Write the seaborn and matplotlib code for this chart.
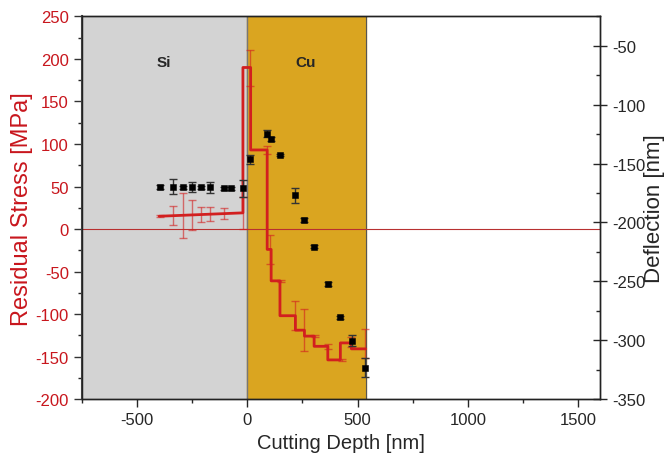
import numpy as np
import pandas as pd
import seaborn as sns
import matplotlib.pyplot as plt
from matplotlib.ticker import MultipleLocator

# stress profile (left axis)
si_line_depth = [-400, -20]
si_line_stress = [15, 19]
step_edges = [-20, 15, 90, 108, 148, 218, 259, 303, 365, 422, 472, 537]
step_stress = [190, 93, -24, -61, -102, -119, -126, -138, -154, -134, -141]

# stress error bars
err_depth = [-397, -337, -291, -250, -211, -169, -106, -20,
             12, 90, 105, 151, 218, 259, 309, 365, 430, 472, 535]
err_stress = [15, 15.5, 16, 16.5, 17, 17.5, 18, 19,
              189, 93, -24, -61, -102, -119, -126, -138, -154, -133, -135]
err_size = [1, 11, 26, 18, 9, 8.5, 6.5, 19,
            21, 5, 17, 1.5, 17, 25, 1, 3, 1, 6, 17]

# deflection (right axis)
defl_depth = [-396, -335, -291, -252, -211, -169, -106, -72, -20,
              12, 90, 108, 146, 218, 258, 303, 365, 422, 473, 534]
defl_value = [-169.7, -169.7, -170.2, -170, -170.2, -170.2, -171, -171, -171,
              -146.3, -124.8, -129.3, -142.9, -177, -198, -220.6, -252.5, -280.6, -300.5, -323.5]
defl_err = [1.5, 6.3, 1, 4, 1, 4.5, 1, 1, 7,
            4, 3, 1.5, 1, 6.3, 1.5, 1.5, 1.5, 1.5, 4.5, 8]

sns.set_style("ticks")
plt.rcParams['font.family'] = ['Liberation Sans', 'DejaVu Sans']
plt.rcParams['axes.unicode_minus'] = False

RED = '#d21f1f'
LABEL_RED = '#c8161d'

fig, ax = plt.subplots(figsize=(6.69, 4.64), dpi=100)
fig.subplots_adjust(left=0.1226, right=0.8969, top=0.9623, bottom=0.1379)

# material regions
ax.axvspan(-750, 0, color='#d3d3d3', zorder=0)
ax.axvspan(0, 540, color='#daa520', zorder=0)
ax.axvline(0, color='#777777', lw=1.0, zorder=1)
ax.axvline(540, color='#555555', lw=0.8, zorder=1)
ax.axhline(0, color='#b83030', lw=0.8, zorder=1)

ax.text(-379, 197, 'Si', fontsize=11, fontweight='bold', ha='center', va='center')
ax.text(264, 197, 'Cu', fontsize=11, fontweight='bold', ha='center', va='center')

# build step polyline
line_x = list(si_line_depth)
line_y = list(si_line_stress)
for i, v in enumerate(step_stress):
    line_x += [step_edges[i], step_edges[i + 1]]
    line_y += [v, v]
line_df = pd.DataFrame({'depth': line_x, 'stress': line_y})

ax.errorbar(err_depth, err_stress, yerr=err_size, fmt='none', ecolor=RED,
            alpha=0.6, elinewidth=1.0, capsize=3, capthick=1.0, zorder=2)
sns.lineplot(data=line_df, x='depth', y='stress', sort=False, estimator=None,
             color=RED, lw=2.0, ax=ax, zorder=3)

ax.set_xlim(-750, 1600)
ax.set_ylim(-200, 250)
ax.xaxis.set_major_locator(MultipleLocator(500))
ax.xaxis.set_minor_locator(MultipleLocator(250))
ax.yaxis.set_major_locator(MultipleLocator(50))
ax.yaxis.set_minor_locator(MultipleLocator(25))
ax.set_xlabel('Cutting Depth [nm]', fontsize=14.5)
ax.set_ylabel('Residual Stress [MPa]', fontsize=17, color=LABEL_RED, va='center')
ax.yaxis.set_label_coords(-0.116, 0.5)
ax.tick_params(axis='y', colors='#333333', labelcolor=LABEL_RED, labelsize=12,
               direction='out', length=6, width=1)
ax.tick_params(axis='y', which='minor', direction='out', length=3, width=1)
ax.tick_params(axis='x', labelsize=12, direction='out', length=6, width=1)
ax.tick_params(axis='x', which='minor', direction='out', length=3, width=1)

ax2 = ax.twinx()
ax2.errorbar(defl_depth, defl_value, yerr=defl_err, fmt='none', ecolor='#333333',
             elinewidth=1.0, capsize=3, capthick=1.0, zorder=3)
defl_df = pd.DataFrame({'depth': defl_depth, 'defl': defl_value})
sns.scatterplot(data=defl_df, x='depth', y='defl', marker='s', s=22,
                color='black', edgecolor='black', ax=ax2, zorder=4)
ax2.set_ylim(-350, -25)
ax2.yaxis.set_major_locator(MultipleLocator(50))
ax2.yaxis.set_minor_locator(MultipleLocator(25))
ax2.set_ylabel('Deflection [nm]', fontsize=16, va='center', rotation=90)
ax2.yaxis.set_label_coords(1.106, 0.5)
ax2.set_xlabel('')
ax2.tick_params(axis='y', labelsize=12, direction='inout', length=10, width=1)
ax2.tick_params(axis='y', which='minor', direction='in', length=3, width=1)

for a in (ax, ax2):
    for s in a.spines.values():
        s.set_visible(True)
        s.set_color('#222222')
        s.set_linewidth(1.0)
ax.spines['left'].set_color('#444444')
ax.spines['left'].set_linewidth(1.5)

fig.savefig('out.png', dpi=100)
